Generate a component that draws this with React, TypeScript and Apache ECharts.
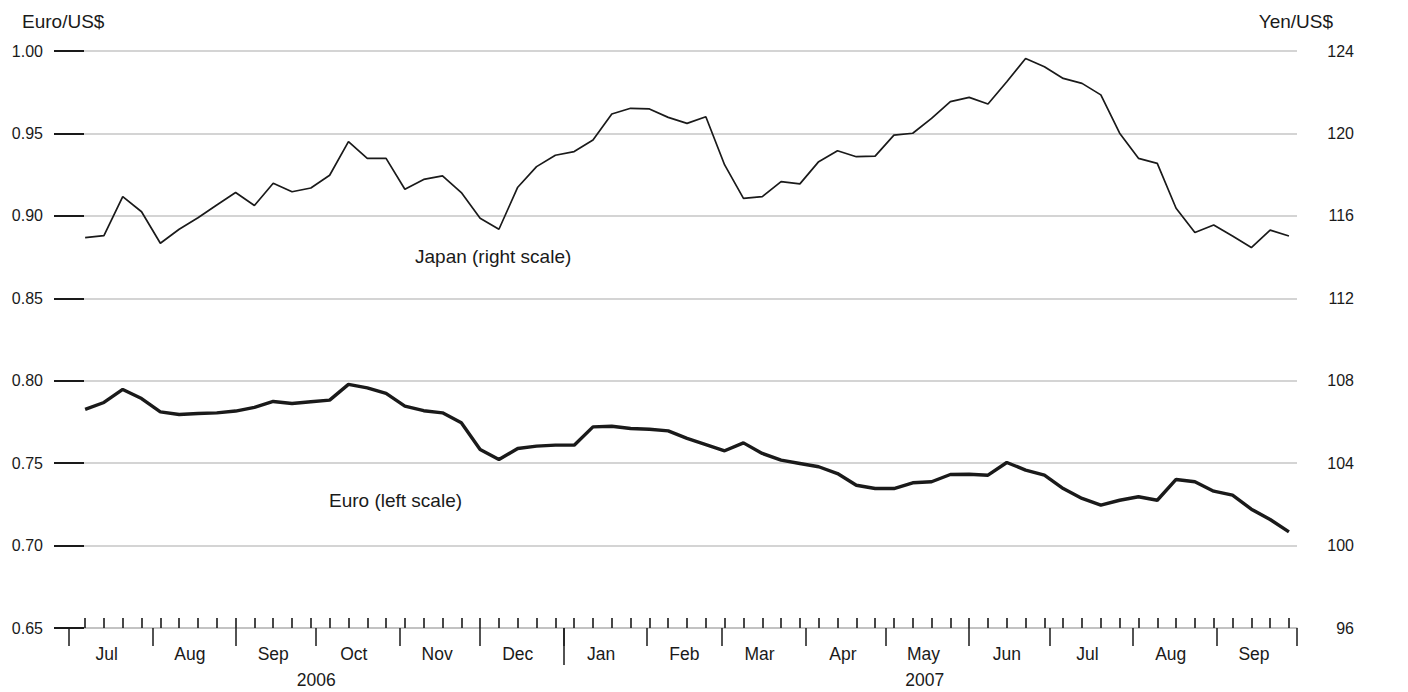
import { useEffect, useRef } from "react";
import * as echarts from "echarts";

// Weekly observation dates (Fridays)
const dates = [
  "2006-07-07", "2006-07-14", "2006-07-21", "2006-07-28",
  "2006-08-04", "2006-08-11", "2006-08-18", "2006-08-25",
  "2006-09-01", "2006-09-08", "2006-09-15", "2006-09-22", "2006-09-29",
  "2006-10-06", "2006-10-13", "2006-10-20", "2006-10-27",
  "2006-11-03", "2006-11-10", "2006-11-17", "2006-11-24",
  "2006-12-01", "2006-12-08", "2006-12-15", "2006-12-22", "2006-12-29",
  "2007-01-05", "2007-01-12", "2007-01-19", "2007-01-26",
  "2007-02-02", "2007-02-09", "2007-02-16", "2007-02-23",
  "2007-03-02", "2007-03-09", "2007-03-16", "2007-03-23", "2007-03-30",
  "2007-04-06", "2007-04-13", "2007-04-20", "2007-04-27",
  "2007-05-04", "2007-05-11", "2007-05-18", "2007-05-25",
  "2007-06-01", "2007-06-08", "2007-06-15", "2007-06-22", "2007-06-29",
  "2007-07-06", "2007-07-13", "2007-07-20", "2007-07-27",
  "2007-08-03", "2007-08-10", "2007-08-17", "2007-08-24", "2007-08-31",
  "2007-09-07", "2007-09-14", "2007-09-21", "2007-09-28",
];

// Yen per US$ (right scale)
const japanYen = [
  114.94, 115.04, 116.93, 116.2, 114.67, 115.35, 115.91, 116.53, 117.13, 116.5,
  117.58, 117.17, 117.35, 117.97, 119.6, 118.79, 118.79, 117.29, 117.77, 117.94,
  117.13, 115.88, 115.35, 117.39, 118.39, 118.94, 119.12, 119.68, 120.94, 121.22,
  121.19, 120.78, 120.49, 120.81, 118.47, 116.85, 116.93, 117.66, 117.55, 118.63,
  119.16, 118.87, 118.9, 119.92, 120.01, 120.73, 121.54, 121.75, 121.43, 122.51,
  123.64, 123.24, 122.67, 122.43, 121.87, 120.01, 118.79, 118.55, 116.37, 115.19,
  115.56, 115.02, 114.46, 115.31, 115.02,
];

// Euro per US$ (left scale)
const euroRate = [
  0.7826, 0.7868, 0.7947, 0.7892, 0.7811, 0.7795, 0.7801, 0.7805, 0.7816, 0.7838,
  0.7874, 0.7862, 0.7872, 0.7882, 0.7978, 0.7957, 0.7923, 0.7846, 0.7818, 0.7805,
  0.7745, 0.7583, 0.7522, 0.7589, 0.7603, 0.7609, 0.7609, 0.772, 0.7724, 0.771,
  0.7706, 0.7696, 0.765, 0.7613, 0.7575, 0.7623, 0.7559, 0.7518, 0.7498, 0.7478,
  0.7437, 0.7366, 0.7346, 0.7346, 0.7381, 0.7387, 0.7431, 0.7433, 0.7427, 0.7504,
  0.7458, 0.7427, 0.7346, 0.7286, 0.7245, 0.7275, 0.7296, 0.7275, 0.7401, 0.7387,
  0.733, 0.7306, 0.7221, 0.7158, 0.7083,
];

const monthStarts = [
  "2006-07-01", "2006-08-01", "2006-09-01", "2006-10-01", "2006-11-01", "2006-12-01",
  "2007-01-01", "2007-02-01", "2007-03-01", "2007-04-01", "2007-05-01", "2007-06-01",
  "2007-07-01", "2007-08-01", "2007-09-01", "2007-10-01",
];
const monthNames = [
  "Jul", "Aug", "Sep", "Oct", "Nov", "Dec",
  "Jan", "Feb", "Mar", "Apr", "May", "Jun", "Jul", "Aug", "Sep",
];
const yearNames = ["2006", "2007"];
const yearBounds = ["2006-07-01", "2007-01-01", "2007-10-01"];

const BASE = Date.UTC(2006, 6, 1);
const dayOf = (s: string) => {
  const [y, m, d] = s.split("-").map(Number);
  return (Date.UTC(y, m - 1, d) - BASE) / 86400000;
};

const FONT = "'Liberation Sans', Arial, Helvetica, sans-serif";
const INK = "#1a1a1a";

export default function App() {
  const ref = useRef<HTMLDivElement>(null);

  useEffect(() => {
    if (!ref.current) return;
    const chart = echarts.init(ref.current, null, { renderer: "svg" });

    const xs = dates.map(dayOf);
    const monthVals = monthStarts.map(dayOf);
    const xMax = monthVals[monthVals.length - 1];
    const monthLabelVals = monthNames.map((_, i) => monthVals[i] + 14);
    const monthLabelMap = new Map<number, string>();
    monthLabelVals.forEach((v, i) => monthLabelMap.set(v, monthNames[i]));
    const yearVals = yearBounds.map(dayOf);
    const yearLabelVals = yearNames.map((_, i) => (yearVals[i] + yearVals[i + 1]) / 2 - (i === 1 ? 2 : 0));
    const yearLabelMap = new Map<number, string>();
    yearLabelVals.forEach((v, i) => yearLabelMap.set(v, yearNames[i]));

    const baseX = {
      type: "value",
      min: 0,
      max: xMax,
      position: "bottom",
      gridIndex: 0,
      splitLine: { show: false },
      axisLine: { show: false, onZero: false },
    };

    const option: any = {
      animation: false,
      backgroundColor: "#ffffff",
      textStyle: { fontFamily: FONT },
      grid: { left: 69, right: 111, top: 51, bottom: 64, containLabel: false },
      xAxis: [
        {
          ...baseX,
          axisLine: { show: true, onZero: false, lineStyle: { color: "#bdbdbd", width: 1.5 } },
          axisTick: {
            show: true,
            inside: true,
            length: 10,
            customValues: xs,
            lineStyle: { color: INK, width: 1.6 },
          },
          axisLabel: { show: false },
        },
        {
          ...baseX,
          axisTick: {
            show: true,
            length: 18,
            customValues: monthVals,
            lineStyle: { color: INK, width: 1.5 },
          },
          axisLabel: {
            show: true,
            customValues: monthLabelVals,
            formatter: (v: number) => monthLabelMap.get(v) ?? "",
            margin: 17,
            fontSize: 17.5,
            color: INK,
            fontFamily: FONT,
          },
        },
        {
          ...baseX,
          axisTick: {
            show: true,
            length: 37,
            customValues: [yearVals[1]],
            lineStyle: { color: INK, width: 1.5 },
          },
          axisLabel: {
            show: true,
            customValues: yearLabelVals,
            formatter: (v: number) => yearLabelMap.get(v) ?? "",
            margin: 43,
            fontSize: 17.5,
            color: INK,
            fontFamily: FONT,
          },
        },
      ],
      yAxis: [
        {
          type: "value",
          position: "left",
          min: 0.65,
          max: 1.0,
          interval: 0.05,
          axisLine: { show: false },
          axisTick: { show: true, length: 15, lineStyle: { color: INK, width: 2 } },
          axisLabel: {
            formatter: (v: number) => v.toFixed(2),
            margin: 26,
            fontSize: 16,
            color: INK,
            fontFamily: FONT,
          },
          splitLine: { show: true, lineStyle: { color: "#c6c6c6", width: 1.5 } },
        },
        {
          type: "value",
          position: "right",
          min: 96,
          max: 124,
          interval: 4,
          axisLine: { show: false },
          axisTick: { show: true, length: 15, lineStyle: { color: INK, width: 2 } },
          axisLabel: {
            formatter: (v: number) => String(Math.round(v)),
            align: "right",
            margin: 57,
            fontSize: 16,
            color: INK,
            fontFamily: FONT,
          },
          splitLine: { show: false },
        },
      ],
      series: [
        {
          name: "Japan (right scale)",
          type: "line",
          xAxisIndex: 0,
          yAxisIndex: 1,
          symbol: "none",
          lineStyle: { color: INK, width: 1.7 },
          data: xs.map((x, i) => [x, japanYen[i]]),
          z: 3,
        },
        {
          name: "Euro (left scale)",
          type: "line",
          xAxisIndex: 0,
          yAxisIndex: 0,
          symbol: "none",
          lineStyle: { color: INK, width: 3.4 },
          data: xs.map((x, i) => [x, euroRate[i]]),
          z: 3,
        },
      ],
      graphic: [
        {
          type: "text",
          left: 22,
          top: 12,
          style: { text: "Euro/US$", font: `19px ${FONT}`, fill: INK },
        },
        {
          type: "text",
          right: 1408 - 1333,
          top: 12,
          style: { text: "Yen/US$", font: `19px ${FONT}`, fill: INK },
        },
        {
          type: "text",
          left: 415,
          top: 247,
          style: { text: "Japan (right scale)", font: `19px ${FONT}`, fill: INK },
        },
        {
          type: "text",
          left: 329,
          top: 491,
          style: { text: "Euro (left scale)", font: `19px ${FONT}`, fill: INK },
        },
      ],
    };

    chart.setOption(option);
    return () => chart.dispose();
  }, []);

  return (
    <div
      ref={ref}
      style={{ position: "absolute", left: 0, top: 0, width: 1408, height: 692, background: "#fff" }}
    />
  );
}
